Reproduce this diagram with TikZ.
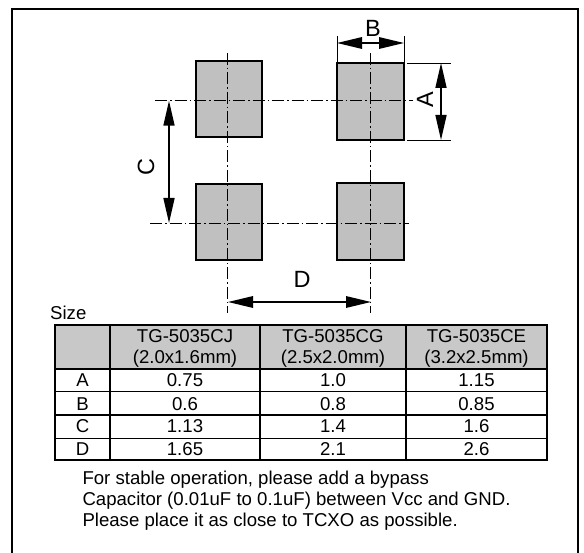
\documentclass[tikz,border=0pt]{standalone}
\usepackage{fontspec}
\setmainfont{Liberation Sans}
\usetikzlibrary{arrows.meta}
\definecolor{padgray}{RGB}{192,192,192}
\definecolor{headgray}{RGB}{200,200,200}
\tikzset{
  x=1pt,y=-1pt,
  pad/.style={draw=black,fill=padgray,line width=1.8pt},
  center line/.style={line width=0.8pt,dash pattern=on 12pt off 3pt on 1.5pt off 3pt},
  dimv/.style={line width=1.6pt,{Triangle[length=25pt,width=11pt]}-{Triangle[length=25pt,width=11pt]}},
  dimh/.style={line width=1.6pt,{Triangle[length=25pt,width=11.5pt]}-{Triangle[length=25pt,width=11.5pt]}},
  ext/.style={line width=0.7pt},
  lbl/.style={font=\fontsize{23.5pt}{24pt}\selectfont,inner sep=0pt},
  cell/.style={font=\fontsize{18.6pt}{20pt}\selectfont,inner sep=0pt,anchor=base},
  note/.style={font=\fontsize{18.6pt}{20pt}\selectfont,inner sep=0pt,anchor=base west},
  grid/.style={line width=1.6pt}
}
\begin{document}
\begin{tikzpicture}
\useasboundingbox (0,0) rectangle (584,553);
% frame
\coordinate (fa) at (12,553); \coordinate (fb) at (12,9);
\coordinate (fc) at (578,9);  \coordinate (fd) at (578,553);
\draw[line width=2pt] (fa) -- (fb) -- (fc) -- (fd);
% pads
\draw[pad] (196,61) rectangle (262,137);
\draw[pad] (337,63) rectangle (404,140);
\draw[pad] (196,184) rectangle (262,260);
\draw[pad] (337,183) rectangle (404,260);
% centre lines
\coordinate (v1t) at (227.5,53);  \coordinate (v1b) at (227.5,313);
\coordinate (v2t) at (370.7,53);  \coordinate (v2b) at (370.7,313);
\coordinate (h1l) at (155,100.7); \coordinate (h1r) at (413,100.7);
\coordinate (h2l) at (150,223);   \coordinate (h2r) at (409,223);
\draw[center line] (v1t) -- (v1b);
\draw[center line] (v2t) -- (v2b);
\draw[center line] (h1l) -- (h1r);
\draw[center line] (h2l) -- (h2r);
% extension lines
\coordinate (bl) at (337,43); \coordinate (br) at (404,43);
\coordinate (al) at (441,63); \coordinate (ab) at (441,140);
\coordinate (cl) at (169,100.7); \coordinate (cb) at (169,223);
\coordinate (dl) at (228,302); \coordinate (dr) at (371,302);
\draw[ext] (337,36) -- (337,63);
\draw[ext] (404,36) -- (404,63);
\draw[ext] (407,63) -- (451,63);
\draw[ext] (407,140) -- (451,140);
% dimension arrows
\draw[dimh] (bl) -- (br);
\draw[dimv] (al) -- (ab);
\draw[dimv] (cl) -- (cb);
\draw[dimh] (dl) -- (dr);
% dimension labels
\node[lbl] (lb) at (373,28) {B};
\node[lbl,rotate=90] (la) at (425,100) {A};
\node[lbl,rotate=90] (lc) at (146,167) {C};
\node[lbl] (ld) at (302,279) {D};
% table
\node[note] (size) at (50,320) {Size};
\fill[headgray] (55,325) rectangle (547,369);
\draw[grid] (55,325) rectangle (547,460);
\foreach \yy in {369,391.7,415,438.3} \draw[grid] (55,\yy) -- (547,\yy);
\foreach \xx in {110,260,406} \draw[grid] (\xx,325) -- (\xx,460);
\node[cell] (h1a) at (185,342.7) {TG-5035CJ};
\node[cell] (h1b) at (185,363.3) {(2.0x1.6mm)};
\node[cell] (h2a) at (333,342.7) {TG-5035CG};
\node[cell] (h2b) at (333,363.3) {(2.5x2.0mm)};
\node[cell] (h3a) at (476.5,342.7) {TG-5035CE};
\node[cell] (h3b) at (476.5,363.3) {(3.2x2.5mm)};
\node[cell] (ra) at (82.5,386.7) {A};
\node[cell] (ra1) at (185,386.7) {0.75};
\node[cell] (ra2) at (333,386.7) {1.0};
\node[cell] (ra3) at (476.5,386.7) {1.15};
\node[cell] (rb) at (82.5,410) {B};
\node[cell] (rb1) at (185,410) {0.6};
\node[cell] (rb2) at (333,410) {0.8};
\node[cell] (rb3) at (476.5,410) {0.85};
\node[cell] (rc) at (82.5,432.7) {C};
\node[cell] (rc1) at (185,432.7) {1.13};
\node[cell] (rc2) at (333,432.7) {1.4};
\node[cell] (rc3) at (476.5,432.7) {1.6};
\node[cell] (rd) at (82.5,455) {D};
\node[cell] (rd1) at (185,455) {1.65};
\node[cell] (rd2) at (333,455) {2.1};
\node[cell] (rd3) at (476.5,455) {2.6};
% note
\node[note] (n1) at (82.3,484) {For stable operation, please add a bypass};
\node[note] (n2) at (82.3,505) {Capacitor (0.01uF to 0.1uF) between Vcc and GND.};
\node[note] (n3) at (82.3,526.7) {Please place it as close to TCXO as possible.};
\end{tikzpicture}
\end{document}
